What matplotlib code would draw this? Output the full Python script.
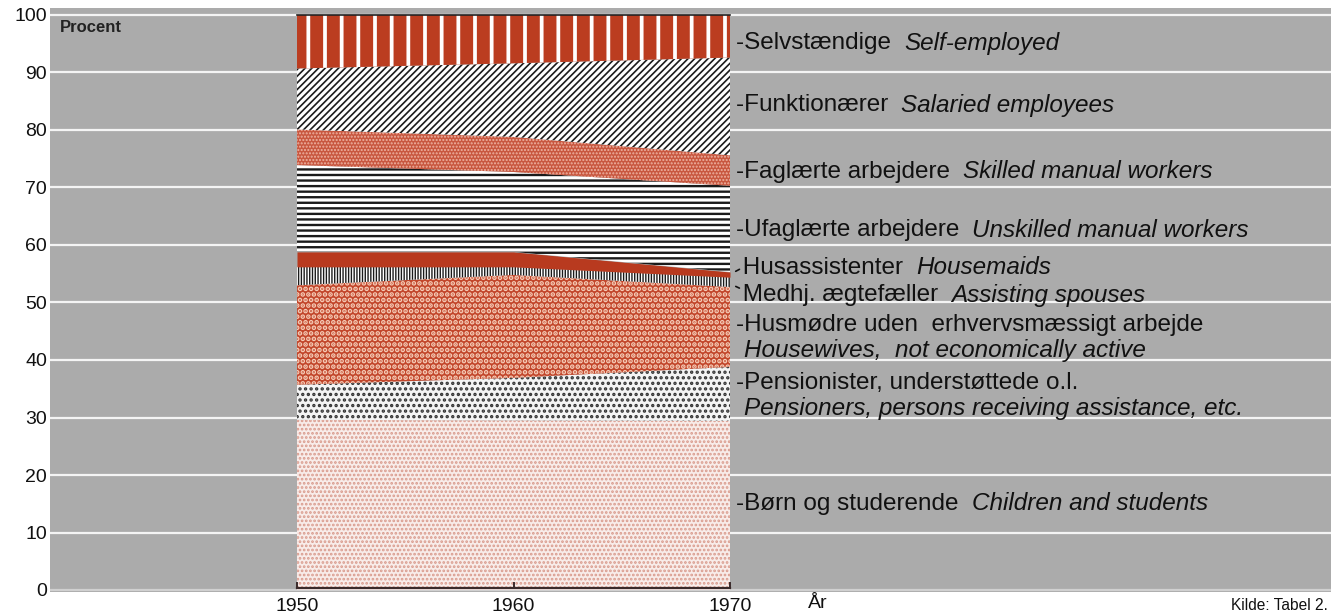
import matplotlib
matplotlib.use("Agg")
import matplotlib.pyplot as plt
import numpy as np

plt.rcParams['font.family'] = ['Liberation Sans', 'DejaVu Sans']
plt.rcParams['hatch.linewidth'] = 1.6

years = [1950, 1960, 1970]
children = [29.6, 29.5, 29.4]
pensioners = [6.1, 7.4, 9.4]
housewives = [17.3, 17.9, 13.9]
spouses = [3.2, 1.4, 1.7]
housemaids = [2.6, 2.6, 0.9]
unskilled = [15.1, 13.9, 15.0]
skilled = [6.2, 6.1, 5.3]
salaried = [10.6, 12.8, 17.0]
selfemp = [9.3, 8.4, 7.4]

series = [children, pensioners, housewives, spouses, housemaids,
          unskilled, skilled, salaried, selfemp]

labels_dk = ["Børn og studerende", "Pensionister, understøttede o.l.",
             "Husmødre uden  erhvervsmæssigt arbejde", "Medhj. ægtefæller",
             "Husassistenter", "Ufaglærte arbejdere", "Faglærte arbejdere",
             "Funktionærer", "Selvstændige"]
labels_en = ["Children and students", "Pensioners, persons receiving assistance, etc.",
             "Housewives,  not economically active", "Assisting spouses",
             "Housemaids", "Unskilled manual workers", "Skilled manual workers",
             "Salaried employees", "Self-employed"]
label_y = [15.0, 36.0, 46.1, 51.3, 56.0, 62.6, 72.7, 84.3, 95.1]

styles = [
    dict(fc='#f8ece9', ec='#d99a8c', hatch='....', hlw=1.3),
    dict(fc='#f4f4f4', ec='#333333', hatch='...', hlw=1.6),
    dict(fc='#c2462b', ec='#f6cdb8', hatch='...', hlw=2.4),
    dict(fc='#ffffff', ec='#1a1a1a', hatch='||||||', hlw=1.0),
    dict(fc='#b83a1f', ec='#b83a1f', hatch=None, hlw=1.0),
    dict(fc='#ffffff', ec='#1a1a1a', hatch='---', hlw=1.7),
    dict(fc='#c8573f', ec='#eeb3a3', hatch='.....', hlw=1.0),
    dict(fc='#ffffff', ec='#1a1a1a', hatch='/////', hlw=1.2),
    dict(fc='#bb3d20', ec='#ffffff', hatch='|', hlw=2.7),
]

W, H = 1331, 612
fig = plt.figure(figsize=(W / 100, H / 100), dpi=100)
fig.patch.set_facecolor('white')

left_px, right_px, top_px, bot_px = 50, 1331, 8, 592
ax = fig.add_axes([left_px / W, 1 - bot_px / H, (right_px - left_px) / W, (bot_px - top_px) / H])
ax.set_facecolor('#ababab')

px_per_year = (730 - 297) / 20.0
ax.set_xlim(1950 - (297 - left_px) / px_per_year, 1970 + (right_px - 730) / px_per_year)
px_per_unit = (590 - 15) / 100.0
ax.set_ylim(-(bot_px - 590) / px_per_unit, 100 + (15 - top_px) / px_per_unit)

for s in ax.spines.values():
    s.set_visible(False)

yt = np.arange(0, 101, 10)
for v in yt:
    ax.axhline(v, color='#f4f4f4' if v > 0 else '#d0d0d0', lw=1.6, zorder=1)

x = np.array(years, dtype=float)
base = np.zeros(3)
for vals, st in zip(series, styles):
    top = base + np.array(vals)
    coll = ax.fill_between(x, base, top, facecolor=st['fc'], edgecolor=st['ec'],
                           hatch=st['hatch'], linewidth=0, zorder=2)
    if hasattr(coll, 'set_hatch_linewidth'):
        coll.set_hatch_linewidth(st['hlw'])
    base = top

ax.plot([1950, 1970], [100, 100], color='#222222', lw=1.2, zorder=3)
ax.plot([1950, 1970], [0.3, 0.3], color='#3a2a2a', lw=1.6, zorder=3)
for yr in years:
    ax.plot([yr, yr], [0.3, 1.2], color='#3a2a2a', lw=1.4, zorder=3)

ax.set_yticks(yt)
ax.set_yticklabels([str(v) for v in yt], fontsize=14)
ax.set_xticks(years)
ax.set_xticklabels([str(v) for v in years], fontsize=14)
ax.tick_params(axis='both', length=0, colors='#111111')
ax.tick_params(axis='y', pad=2)
ax.tick_params(axis='x', pad=4)

ax.text(0.008, 0.98, "Procent", transform=ax.transAxes, fontsize=12,
        fontweight='bold', color='#222222', va='top', ha='left', zorder=4)

fs = 17.5
for dk, en, yv in zip(labels_dk, labels_en, label_y):
    prefix = "-"
    if dk in ("Husassistenter", "Medhj. ægtefæller"):
        prefix = " "
    if dk.startswith("Husmødre") or dk.startswith("Pensionister"):
        ax.annotate(prefix + dk, xy=(1970, yv), xytext=(4, 0), textcoords='offset points',
                    fontsize=fs, va='center', ha='left', color='#111111')
        ax.annotate(en, xy=(1970, yv), xytext=(10, -18.5), textcoords='offset points',
                    fontsize=fs, va='center', ha='left', color='#111111', style='italic')
    else:
        t = ax.annotate(prefix + dk + "  ", xy=(1970, yv), xytext=(4, 0), textcoords='offset points',
                        fontsize=fs, va='center', ha='left', color='#111111')
        ax.annotate(en, xycoords=t, xy=(1, 0.5), xytext=(0, 0), textcoords='offset points',
                    fontsize=fs, va='center', ha='left', color='#111111', style='italic')

ax.annotate("", xy=(1970.15, 55.2), xytext=(1970.55, 56.0),
            arrowprops=dict(arrowstyle='-', color='#111111', lw=1.2))
ax.annotate("", xy=(1970.15, 53.0), xytext=(1970.55, 52.3),
            arrowprops=dict(arrowstyle='-', color='#111111', lw=1.2))

fig.text(808 / W, 1 - 604 / H, "År", fontsize=14, ha='left', va='center', color='#111111')
fig.text(1328 / W, 1 - 605 / H, "Kilde: Tabel 2.", fontsize=11.2, ha='right', va='center', color='#111111')

fig.savefig("out.png", dpi=100, facecolor='white')
